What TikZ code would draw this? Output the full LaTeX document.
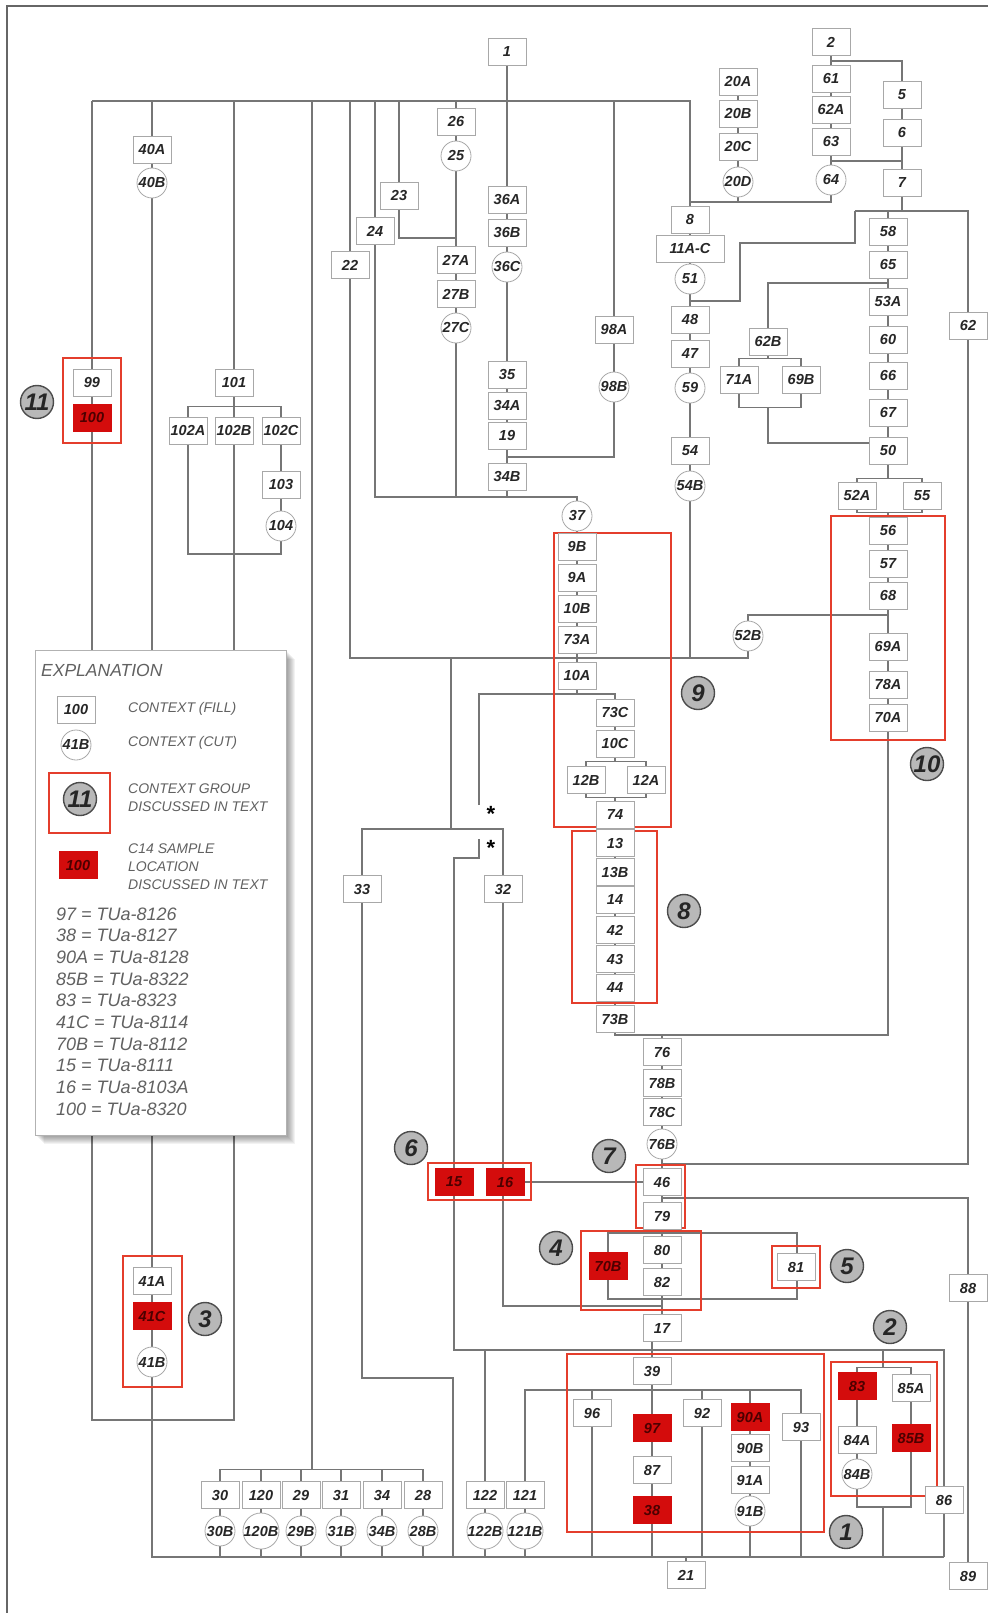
\documentclass[tikz,border=0pt]{standalone}
\usepackage{fontspec}
\setmainfont{Liberation Sans}
\usepackage{tikz}

\definecolor{smpred}{RGB}{212,12,12}
\definecolor{grpred}{RGB}{228,62,44}
\definecolor{linegray}{RGB}{118,118,118}
\definecolor{boxgray}{RGB}{168,168,168}

\newcommand\ctxfont{\fontsize{14.5}{15}\selectfont\bfseries\itshape}
\newcommand\badgefont{\fontsize{24}{24}\selectfont\bfseries\itshape}
\newcommand\legfont{\fontsize{14}{18}\selectfont\itshape}

\pgfdeclarelayer{wires}
\pgfdeclarelayer{frames}
\pgfsetlayers{wires,frames,main}

\tikzset{
  ctx/.style={rectangle, draw=boxgray, fill=white, line width=0.8pt,
    minimum width=38pt, minimum height=27pt, inner sep=0pt,
    font=\ctxfont, text=black!85},
  ctxwide/.style={ctx, minimum width=68pt},
  ctxcut/.style={circle, draw=boxgray, fill=white, line width=0.8pt,
    minimum size=30pt, inner sep=0pt, font=\ctxfont, text=black!85},
  smp/.style={ctx, draw=smpred, fill=smpred, text=red!30!black},
  grp/.style={draw=grpred, line width=1.6pt},
  badge/.style={circle, draw=black!70, fill=black!28, line width=1.4pt,
    minimum size=33pt, inner sep=0pt, font=\badgefont, text=black!85},
  wire/.style={draw=linegray, line width=1.1pt},
  legtxt/.style={anchor=west, font=\legfont, text=black!62, align=left,
    inner sep=0pt},
  astx/.style={font=\fontsize{22}{22}\selectfont\bfseries, inner sep=0pt}
}

\begin{document}
\begin{tikzpicture}[x=1pt,y=-1pt]
  \useasboundingbox (0,0) rectangle (988,1613);
  \draw[black!60, line width=1.2pt] (7,1613) -- (7,6) -- (988,6);

  % Left-hand columns.
  \node[ctx] (n40A) at (152,150) {40A};
  \node[ctxcut] (n40B) at (152,183) {40B};
  \node[ctx] (n99) at (92,383) {99};
  \node[smp] (n100) at (92,418) {100};
  \node[ctx] (n101) at (234,383) {101};
  \node[ctx] (n102A) at (188,431) {102A};
  \node[ctx] (n102B) at (234,431) {102B};
  \node[ctx] (n102C) at (281,431) {102C};
  \node[ctx] (n103) at (281,485) {103};
  \node[ctxcut] (n104) at (281,526) {104};
  \node[ctx] (n41A) at (152,1281) {41A};
  \node[smp] (n41C) at (152,1316) {41C};
  \node[ctxcut] (n41B) at (152,1362) {41B};

  % Upper middle.
  \node[ctx] (n1) at (507,52) {1};
  \node[ctx] (n26) at (456,122) {26};
  \node[ctxcut] (n25) at (456,156) {25};
  \node[ctx] (n23) at (399,196) {23};
  \node[ctx] (n24) at (375,231) {24};
  \node[ctx] (n22) at (350,265) {22};
  \node[ctx] (n27A) at (456,260) {27A};
  \node[ctx] (n27B) at (456,294) {27B};
  \node[ctxcut] (n27C) at (456,328) {27C};
  \node[ctx] (n36A) at (507,200) {36A};
  \node[ctx] (n36B) at (507,233) {36B};
  \node[ctxcut] (n36C) at (507,267) {36C};
  \node[ctx] (n35) at (507,375) {35};
  \node[ctx] (n34A) at (507,406) {34A};
  \node[ctx] (n19) at (507,436) {19};
  \node[ctx] (n34B) at (507,477) {34B};
  \node[ctx] (n98A) at (614,330) {98A};
  \node[ctxcut] (n98B) at (614,387) {98B};

  % Upper right.
  \node[ctx] (n2) at (831,42) {2};
  \node[ctx] (n61) at (831,79) {61};
  \node[ctx] (n62A) at (831,110) {62A};
  \node[ctx] (n63) at (831,142) {63};
  \node[ctxcut] (n64) at (831,180) {64};
  \node[ctx] (n5) at (902,95) {5};
  \node[ctx] (n6) at (902,133) {6};
  \node[ctx] (n7) at (902,183) {7};
  \node[ctx] (n20A) at (738,82) {20A};
  \node[ctx] (n20B) at (738,114) {20B};
  \node[ctx] (n20C) at (738,147) {20C};
  \node[ctxcut] (n20D) at (738,182) {20D};
  \node[ctx] (n8) at (690,220) {8};
  \node[ctxwide] (n11AC) at (690,249) {11A-C};
  \node[ctxcut] (n51) at (690,279) {51};
  \node[ctx] (n48) at (690,320) {48};
  \node[ctx] (n47) at (690,354) {47};
  \node[ctxcut] (n59) at (690,388) {59};
  \node[ctx] (n54) at (690,451) {54};
  \node[ctxcut] (n54B) at (690,486) {54B};
  \node[ctx] (n58) at (888,232) {58};
  \node[ctx] (n65) at (888,265) {65};
  \node[ctx] (n53A) at (888,302) {53A};
  \node[ctx] (n60) at (888,340) {60};
  \node[ctx] (n66) at (888,376) {66};
  \node[ctx] (n67) at (888,413) {67};
  \node[ctx] (n50) at (888,451) {50};
  \node[ctx] (n52A) at (857,496) {52A};
  \node[ctx] (n55) at (922,496) {55};
  \node[ctx] (n56) at (888,531) {56};
  \node[ctx] (n57) at (888,564) {57};
  \node[ctx] (n68) at (888,596) {68};
  \node[ctx] (n69A) at (888,647) {69A};
  \node[ctx] (n78A) at (888,685) {78A};
  \node[ctx] (n70A) at (888,718) {70A};
  \node[ctx] (n62B) at (768,342) {62B};
  \node[ctx] (n71A) at (739,380) {71A};
  \node[ctx] (n69B) at (801,380) {69B};
  \node[ctx] (n62) at (968,326) {62};
  \node[ctxcut] (n52B) at (748,636) {52B};

  % Central column.
  \node[ctxcut] (n37) at (577,516) {37};
  \node[ctx] (n9B) at (577,547) {9B};
  \node[ctx] (n9A) at (577,578) {9A};
  \node[ctx] (n10B) at (577,609) {10B};
  \node[ctx] (n73A) at (577,640) {73A};
  \node[ctx] (n10A) at (577,676) {10A};
  \node[ctx] (n73C) at (615,713) {73C};
  \node[ctx] (n10C) at (615,744) {10C};
  \node[ctx] (n12B) at (586,780) {12B};
  \node[ctx] (n12A) at (646,780) {12A};
  \node[ctx] (n74) at (615,815) {74};
  \node[ctx] (n13) at (615,843) {13};
  \node[ctx] (n13B) at (615,872) {13B};
  \node[ctx] (n14) at (615,900) {14};
  \node[ctx] (n42) at (615,930) {42};
  \node[ctx] (n43) at (615,959) {43};
  \node[ctx] (n44) at (615,988) {44};
  \node[ctx] (n73B) at (615,1019) {73B};
  \node[ctx] (n76) at (662,1052) {76};
  \node[ctx] (n78B) at (662,1083) {78B};
  \node[ctx] (n78C) at (662,1112) {78C};
  \node[ctxcut] (n76B) at (662,1144) {76B};
  \node[ctx] (n46) at (662,1182) {46};
  \node[ctx] (n79) at (662,1216) {79};
  \node[ctx] (n80) at (662,1250) {80};
  \node[ctx] (n82) at (662,1282) {82};
  \node[ctx] (n17) at (662,1328) {17};
  \node[smp] (n70B) at (608,1266) {70B};
  \node[ctx] (n81) at (796,1267) {81};
  \node[smp] (n15) at (454,1182) {15};
  \node[smp] (n16) at (505,1182) {16};
  \node[ctx] (n33) at (362,889) {33};
  \node[ctx] (n32) at (503,889) {32};
  \node[astx] (ast1) at (491,814) {*};
  \node[astx] (ast2) at (491,848) {*};

  % Lower part.
  \node[ctx] (n39) at (652,1371) {39};
  \node[smp] (n97) at (652,1428) {97};
  \node[ctx] (n87) at (652,1470) {87};
  \node[smp] (n38) at (652,1510) {38};
  \node[ctx] (n96) at (592,1413) {96};
  \node[ctx] (n92) at (702,1413) {92};
  \node[smp] (n90A) at (750,1417) {90A};
  \node[ctx] (n90B) at (750,1448) {90B};
  \node[ctx] (n91A) at (750,1480) {91A};
  \node[ctxcut] (n91B) at (750,1511) {91B};
  \node[ctx] (n93) at (801,1427) {93};
  \node[smp] (n83) at (857,1386) {83};
  \node[ctx] (n85A) at (911,1388) {85A};
  \node[ctx] (n84A) at (857,1440) {84A};
  \node[ctxcut] (n84B) at (857,1474) {84B};
  \node[smp] (n85B) at (911,1438) {85B};
  \node[ctx] (n86) at (944,1500) {86};
  \node[ctx] (n88) at (968,1288) {88};
  \node[ctx] (n89) at (968,1576) {89};
  \node[ctx] (n21) at (686,1575) {21};
  \node[ctx] (n122) at (485,1495) {122};
  \node[ctx] (n121) at (525,1495) {121};
  \node[ctxcut] (n122B) at (485,1531) {122B};
  \node[ctxcut] (n121B) at (525,1531) {121B};
  \foreach \lab/\x in {30/220,120/261,29/301,31/341,34/382,28/423} {
    \node[ctx] (n\lab) at (\x,1495) {\lab};
    \node[ctxcut] (c\lab) at (\x,1531) {\lab B};
  }

  % Group badges.
  \node[badge] (b11) at (37,402) {11};
  \node[badge] (b9) at (698,693) {9};
  \node[badge] (b10) at (927,764) {10};
  \node[badge] (b8) at (684,911) {8};
  \node[badge] (b6) at (411,1148) {6};
  \node[badge] (b7) at (609,1156) {7};
  \node[badge] (b4) at (556,1248) {4};
  \node[badge] (b5) at (847,1266) {5};
  \node[badge] (b3) at (205,1319) {3};
  \node[badge] (b2) at (890,1327) {2};
  \node[badge] (b1) at (846,1532) {1};

  % Bends and junctions.
  \coordinate (busW) at (92,101);
  \coordinate (busE) at (690,101);
  \coordinate (hW) at (350,658);
  \coordinate (hE) at (748,658);
  \coordinate (jW) at (375,497);
  \coordinate (jE) at (577,497);
  \coordinate (botW) at (152,1557);
  \coordinate (botE) at (944,1557);
  \coordinate (loopL) at (92,1420);
  \coordinate (t312) at (312,101);
  \coordinate (k312) at (312,1470);
  \coordinate (k23) at (456,238);
  \coordinate (k98) at (507,457);
  \coordinate (k202) at (690,202);
  \coordinate (k161) at (902,161);
  \coordinate (l211) at (855,211);
  \coordinate (r211) at (968,211);
  \coordinate (k243) at (740,243);
  \coordinate (k301) at (690,301);
  \coordinate (k283) at (888,283);
  \coordinate (k407) at (768,407);
  \coordinate (k615) at (888,615);
  \coordinate (k694) at (577,694);
  \coordinate (a1) at (479,805);
  \coordinate (a2) at (479,839);
  \coordinate (k858) at (479,858);
  \coordinate (k451) at (451,658);
  \coordinate (k829) at (451,829);
  \coordinate (k1035) at (888,1035);
  \coordinate (k1164) at (968,1164);
  \coordinate (k1198) at (968,1198);
  \coordinate (lpNW) at (608,1233);
  \coordinate (lpSE) at (797,1299);
  \coordinate (k1306) at (662,1306);
  \coordinate (k1350) at (944,1350);
  \coordinate (k883) at (883,1350);
  \coordinate (k1378) at (453,1378);
  \coordinate (k1390) at (801,1390);
  \coordinate (k1507) at (883,1507);

  \begin{pgfonlayer}{wires}
    \draw[wire] (busW) -- (busE) -- (n8);
    \draw[wire] (busW) -- (n99) -- (n100) -- (loopL) -| (n102B);
    \draw[wire] (n40A |- busW) -- (n40A) -- (n40B) -- (n41A) -- (n41C)
      -- (n41B) -- (botW) -- (botE);
    \draw[wire] (n101 |- busW) -- (n101) -- (n102B);
    \draw[wire] (n102A.north) -- ++(0,-11) -| (n102C.north);
    \draw[wire] (n102A) -- ++(0,123) -| (n104);
    \draw[wire] (n102C) -- (n103) -- (n104);
    \draw[wire] (t312) -- (k312);
    \draw[wire] (n30.north) -- ++(0,-12) -| (n28.north);
    \foreach \lab in {120,29,31,34}
      \draw[wire] (n\lab.north) -- ++(0,-12);
    \foreach \lab in {30,120,29,31,34,28}
      \draw[wire] (n\lab) -- (c\lab) -- (c\lab |- botW);
    \draw[wire] (n22 |- busW) -- (n22) -- (hW) -- (hE) -- (n52B);
    \draw[wire] (n52B) |- (k615);
    \draw[wire] (n24 |- busW) -- (n24) -- (jW) -- (jE) -- (n37);
    \draw[wire] (n23 |- busW) -- (n23) |- (k23);
    \draw[wire] (n26 |- busW) -- (n26) -- (n25) -- (n27A) -- (n27B)
      -- (n27C) -- (n27C |- jW);
    \draw[wire] (n1) -- (n36A) -- (n36B) -- (n36C) -- (n35) -- (n34A)
      -- (n19) -- (n34B) -- (n34B |- jW);
    \draw[wire] (n98A |- busW) -- (n98A) -- (n98B) |- (k98);
    \draw[wire] (n37) -- (n9B) -- (n9A) -- (n10B) -- (n73A) -- (n10A)
      -- (k694);
    \draw[wire] (a1) |- (k694) -| (n73C);
    \draw[wire] (n73C) -- (n10C) -- ++(0,18);
    \draw[wire] (n12B.north) -- ++(0,-5) -| (n12A.north);
    \draw[wire] (n12B.south) -- ++(0,4) -| (n12A.south);
    \draw[wire] (n74) -- ++(0,-18);
    \draw[wire] (n74) -- (n13) -- (n13B) -- (n14) -- (n42) -- (n43)
      -- (n44) -- (n73B) |- (k1035) -- (n70A);
    \draw[wire] (n76) -- (n76 |- k1035);
    \draw[wire] (n76) -- (n78B) -- (n78C) -- (n76B) -- (n46) -- (n79)
      -- (n80) -- (n82) -- (n17);
    \draw[wire] (n50) -- ++(0,28);
    \draw[wire] (n52A.north) -- ++(0,-4) -| (n55.north);
    \draw[wire] (n52A.south) -- ++(0,3) -| (n55.south);
    \draw[wire] (n56) -- ++(0,-19);
    \draw[wire] (n56) -- (n57) -- (n68) -- (n69A) -- (n78A) -- (n70A);
    \draw[wire] (n58) -- (n65) -- (n53A) -- (n60) -- (n66) -- (n67)
      -- (n50);
    \draw[wire] (n7) -- (n7 |- r211);
    \draw[wire] (n58) -- (n58 |- r211);
    \draw[wire] (l211) -- (r211) -- (n62) -- (k1164) -- (k1164 -| n46);
    \draw[wire] (l211) |- (k243) |- (k301);
    \draw[wire] (n2) -- (n61) -- (n62A) -- (n63) -- (n64) |- (k202);
    \draw[wire] (n2) -- ++(0,19) -| (n5);
    \draw[wire] (n5) -- (n6) -- (n7);
    \draw[wire] (n63) |- (k161);
    \draw[wire] (n20A) -- (n20B) -- (n20C) -- (n20D) -- (n20D |- k202);
    \draw[wire] (n8) -- (n11AC) -- (n51) -- (n48) -- (n47) -- (n59)
      -- (n54) -- (n54B) -- (n54B |- hE);
    \draw[wire] (n62B) |- (k283);
    \draw[wire] (n62B) -- ++(0,17);
    \draw[wire] (n71A.north) -- ++(0,-8) -| (n69B.north);
    \draw[wire] (n71A.south) -- ++(0,14) -| (n69B.south);
    \draw[wire] (k407) |- ([yshift=8pt]n50.west);
    \draw[wire] (k451) -- (k829);
    \draw[wire] (n33) |- (k829);
    \draw[wire] (n32) |- (k829);
    \draw[wire] (a2) -- (k858) -| (n15);
    \draw[wire] (n15) |- (k1350) -- (n86) -- (botE);
    \draw[wire] (n122) -- (n122 |- k1350);
    \draw[wire] (n122) -- (n122B) -- (n122B |- botW);
    \draw[wire] (n32) |- (k1306);
    \draw[wire] (n33) |- (k1378) -- (k1378 |- botW);
    \draw[wire] (n16) -- (n46);
    \draw[wire] (lpNW) rectangle (lpSE);
    \draw[wire] (k1198 -| n46) -- (k1198) -- (n88) -- (n89);
    \draw[wire] (n39) -- (n39 |- n17.south);
    \draw[wire] (n39) -- (n97) -- (n87) -- (n38) -- (n38 |- botW);
    \draw[wire] (n121) |- (k1390) -- (n93) -- (n93 |- botW);
    \draw[wire] (n121) -- (n121B) -- (n121B |- botW);
    \draw[wire] (n96 |- k1390) -- (n96) -- (n96 |- botW);
    \draw[wire] (n92 |- k1390) -- (n92) -- (n92 |- botW);
    \draw[wire] (n90A |- k1390) -- (n90A) -- (n90B) -- (n91A) -- (n91B)
      -- (n91B |- botW);
    \draw[wire] (k883) -- ++(0,18);
    \draw[wire] (n83.north) -- ++(0,-5) -| (n85A.north);
    \draw[wire] (n83) -- (n84A) -- (n84B) -- ++(0,33) -| (n85B);
    \draw[wire] (n85A) -- (n85B);
    \draw[wire] (k1507) -- (k1507 |- botW);
    \draw[wire] (n21) -- (n21 |- botW);
  \end{pgfonlayer}

  % Context groups discussed in the text.
  \begin{pgfonlayer}{frames}
    \draw[grp] (63,358) rectangle (121,443);
    \draw[grp] (554,533) rectangle (671,827);
    \draw[grp] (831,516) rectangle (945,740);
    \draw[grp] (572,831) rectangle (657,1003);
    \draw[grp] (428,1163) rectangle (531,1200);
    \draw[grp] (636,1165) rectangle (685,1228);
    \draw[grp] (581,1231) rectangle (701,1310);
    \draw[grp] (772,1246) rectangle (820,1288);
    \draw[grp] (123,1256) rectangle (182,1387);
    \draw[grp] (567,1354) rectangle (824,1532);
    \draw[grp] (831,1362) rectangle (937,1496);
  \end{pgfonlayer}

  % Explanation box.
  \foreach \d in {2,...,9}
    \fill[black, opacity=0.05] (35+\d,650+\d) rectangle (286+\d,1135+\d);
  \draw[fill=white, draw=black!30, line width=0.8pt]
    (35,650) rectangle (286,1135);
  \node[legtxt, font=\fontsize{17.5}{20}\selectfont\itshape]
    (legtitle) at (41,670) {EXPLANATION};
  \node[ctx] (lfill) at (76,710) {100};
  \node[legtxt] (tfill) at (128,709) {CONTEXT (FILL)};
  \node[ctxcut] (lcut) at (76,745) {41B};
  \node[legtxt] (tcut) at (128,743) {CONTEXT (CUT)};
  \draw[grp] (49,773) rectangle (110,833);
  \node[badge] (lbadge) at (80,799) {11};
  \node[legtxt] (tgrp) at (128,798) {CONTEXT GROUP\\DISCUSSED IN TEXT};
  \node[smp] (lsmp) at (78,865) {100};
  \node[legtxt] (tsmp) at (128,867) {C14 SAMPLE\\LOCATION\\DISCUSSED IN TEXT};
  \foreach \t [count=\i] in {97 = TUa-8126, 38 = TUa-8127, 90A = TUa-8128,
      85B = TUa-8322, 83 = TUa-8323, 41C = TUa-8114, 70B = TUa-8112,
      15 = TUa-8111, 16 = TUa-8103A, 100 = TUa-8320}
    \node[legtxt, anchor=base west, font=\fontsize{18}{20}\selectfont\itshape]
      (date\i) at (56,920+21.7*\i-21.7) {\t};
\end{tikzpicture}
\end{document}
